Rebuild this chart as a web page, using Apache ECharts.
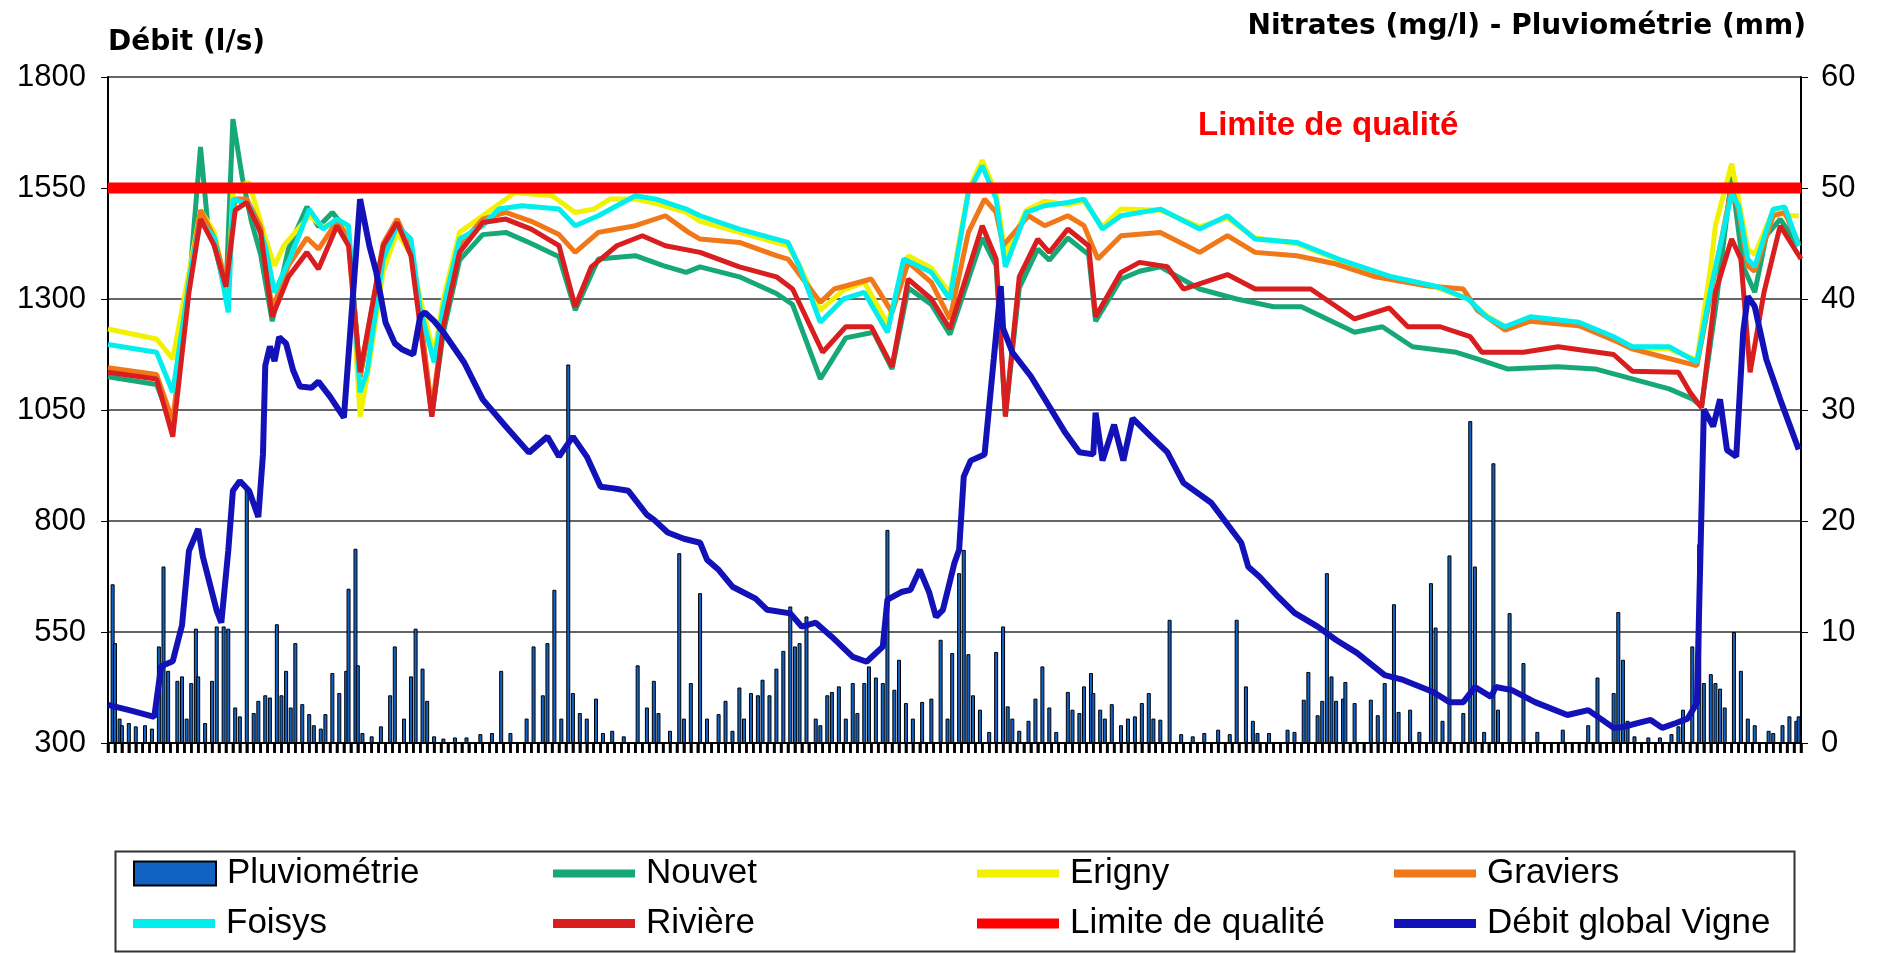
<!DOCTYPE html>
<html><head><meta charset="utf-8">
<script src="https://cdn.jsdelivr.net/npm/echarts@6/dist/echarts.min.js"></script>
<style>html,body{margin:0;padding:0;background:#fff}#c{width:1879px;height:953px}</style>
</head><body><div id="c"></div><script>
// ---- data (x = day index, y = value) ----
const leftTicks = [300, 550, 800, 1050, 1300, 1550, 1800];
const rightTicks = [0, 10, 20, 30, 40, 50, 60];
const limitValue = 50;
const dayCount = 732;          // x range in days
const xTickStep = 3;           // an unlabeled x tick every 3 days
const xTickDays = [];
for (let d = 0; d <= dayCount; d += xTickStep) xTickDays.push([d]);

const pluviometrie = [[2,14.3],[3,9.0],[5,2.2],[6,1.6],[9,1.8],[12,1.5],[16,1.6],[19,1.3],[22,8.7],[24,15.9],[26,6.5],[30,5.6],[32,6.0],[34,2.2],[36,5.4],[38,10.3],[39,6.0],[42,1.8],[45,5.6],[47,10.5],[50,10.5],[52,10.3],[55,3.2],[57,2.4],[60,23.0],[63,2.7],[65,3.8],[68,4.3],[70,4.1],[73,10.7],[75,4.3],[77,6.5],[79,3.2],[81,9.0],[84,3.5],[87,2.6],[89,1.6],[92,1.3],[94,2.6],[97,6.3],[100,4.5],[103,6.5],[104,13.9],[107,17.5],[108,7.0],[110,0.9],[114,0.6],[118,1.5],[122,4.3],[124,8.7],[128,2.2],[131,6.0],[133,10.3],[136,6.7],[138,3.8],[141,0.6],[145,0.4],[150,0.5],[155,0.5],[161,0.8],[166,0.9],[170,6.5],[174,0.9],[181,2.2],[184,8.7],[188,4.3],[190,9.0],[193,13.8],[196,2.2],[199,34.1],[201,4.5],[204,2.7],[207,2.2],[211,4.0],[214,0.9],[218,1.1],[223,0.6],[229,7.0],[233,3.2],[236,5.6],[238,2.7],[243,1.1],[247,17.1],[249,2.2],[252,5.4],[256,13.5],[259,2.2],[264,2.6],[267,3.8],[270,1.1],[273,5.0],[275,2.2],[278,4.5],[281,4.3],[283,5.7],[286,4.3],[289,6.7],[292,8.3],[295,12.3],[297,8.7],[299,9.0],[302,11.4],[306,2.2],[308,1.6],[311,4.3],[313,4.6],[316,5.1],[319,2.2],[322,5.4],[324,2.7],[327,5.4],[329,6.9],[332,5.9],[335,5.4],[337,19.2],[340,4.8],[342,7.5],[345,3.6],[348,2.2],[352,3.7],[356,4.0],[360,9.3],[363,2.2],[365,8.1],[368,15.3],[370,17.4],[372,8.0],[374,4.3],[377,3.0],[381,1.0],[384,8.2],[387,10.5],[389,3.3],[391,2.2],[394,1.1],[398,2.0],[401,4.0],[404,6.9],[407,3.2],[410,1.0],[415,4.6],[417,3.0],[420,2.7],[422,5.1],[425,6.3],[426,4.5],[429,3.0],[431,2.2],[434,3.5],[438,1.6],[441,2.2],[444,2.4],[447,3.6],[450,4.5],[452,2.2],[455,2.1],[459,11.1],[464,0.8],[469,0.6],[474,0.9],[480,1.2],[485,0.8],[488,11.1],[492,5.1],[495,2.0],[497,0.9],[502,0.9],[510,1.2],[513,1.0],[517,3.9],[519,6.4],[523,2.5],[525,3.8],[527,15.3],[529,6.0],[531,3.8],[534,4.0],[535,5.5],[539,3.6],[546,3.9],[549,2.5],[552,5.4],[556,12.5],[558,2.8],[563,3.0],[567,1.0],[572,14.4],[574,10.4],[577,2.0],[580,16.9],[586,2.7],[589,29.0],[591,15.9],[595,1.0],[599,25.2],[601,3.0],[606,11.7],[612,7.2],[618,1.0],[629,1.2],[640,1.6],[644,5.9],[651,4.5],[653,11.8],[655,7.5],[657,2.0],[660,0.6],[666,0.5],[671,0.5],[676,0.8],[679,1.5],[681,3.0],[685,8.7],[688,17.9],[690,5.4],[693,6.2],[695,5.4],[697,4.9],[699,3.2],[703,10.0],[706,6.5],[709,2.2],[712,1.6],[718,1.1],[720,0.9],[724,1.6],[727,2.4],[730,2.0],[731,2.4]];

const nouvet = [[0,33.0],[21,32.3],[28,28.5],[35,41.0],[40,53.7],[43,47.0],[47,44.0],[51,40.5],[54,56.2],[58,51.0],[62,47.0],[66,44.0],[71,38.0],[78,44.5],[86,48.3],[91,46.5],[97,47.8],[104,46.0],[109,33.0],[119,44.0],[125,47.0],[131,44.5],[135,38.5],[140,29.5],[145,37.0],[152,43.5],[162,45.8],[172,46.0],[183,45.0],[195,43.8],[202,39.0],[212,43.6],[228,43.9],[240,43.0],[250,42.4],[256,42.9],[273,42.0],[289,40.5],[296,39.5],[308,32.8],[319,36.5],[331,37.0],[339,33.7],[346,41.0],[356,39.5],[364,36.8],[378,45.5],[384,43.0],[388,29.5],[394,41.0],[402,44.5],[407,43.5],[415,45.5],[424,44.0],[427,38.0],[438,41.8],[446,42.5],[455,42.9],[472,40.9],[488,40.0],[504,39.3],[516,39.3],[539,37.0],[551,37.5],[564,35.7],[583,35.2],[592,34.6],[605,33.7],[627,33.9],[643,33.7],[659,32.8],[675,31.9],[685,31.0],[689,30.3],[695,39.1],[702,51.0],[707,42.9],[712,40.6],[717,45.7],[723,47.2],[731,44.8]];

const erigny = [[0,37.3],[21,36.4],[28,34.6],[36,43.5],[40,48.0],[46,46.0],[52,40.0],[54,50.0],[61,50.5],[68,45.5],[72,43.0],[76,44.8],[87,47.5],[93,46.5],[99,47.0],[104,46.0],[109,29.4],[112,33.0],[119,42.5],[125,46.0],[131,44.0],[135,40.0],[141,35.0],[145,40.0],[152,46.0],[162,47.5],[176,49.6],[192,49.3],[202,47.8],[210,48.1],[217,49.0],[228,49.0],[237,48.6],[250,47.8],[256,47.0],[273,46.0],[294,44.8],[299,43.0],[308,39.0],[318,40.8],[327,41.5],[337,37.8],[346,43.9],[356,42.8],[364,40.5],[372,49.8],[378,52.5],[384,49.5],[388,44.0],[394,46.6],[397,48.0],[405,48.8],[415,48.5],[422,48.8],[430,46.5],[438,48.1],[455,48.0],[472,46.5],[484,47.3],[496,45.5],[514,45.0],[532,43.5],[555,41.8],[575,41.0],[588,40.0],[596,38.5],[604,37.5],[615,38.2],[636,37.8],[651,36.5],[659,35.6],[675,35.5],[687,34.5],[693,43.0],[695,46.6],[702,52.2],[705,49.0],[709,44.5],[712,44.0],[720,48.0],[726,47.5],[731,47.5]];

const graviers = [[0,33.8],[21,33.2],[28,29.0],[35,41.5],[40,48.0],[46,45.5],[51,41.5],[55,49.0],[60,49.0],[66,46.5],[71,39.0],[78,43.0],[86,45.5],[91,44.5],[99,47.0],[104,45.5],[109,33.0],[119,45.0],[125,47.2],[131,44.5],[135,38.5],[140,30.0],[145,38.0],[152,44.8],[162,47.2],[172,47.8],[183,47.0],[195,45.8],[202,44.2],[212,46.0],[228,46.6],[241,47.5],[251,46.0],[256,45.4],[273,45.1],[289,43.9],[294,43.6],[308,39.7],[314,40.9],[330,41.8],[339,38.8],[346,43.3],[356,41.5],[364,38.2],[372,46.0],[379,49.0],[384,47.8],[387,44.8],[398,47.5],[405,46.6],[415,47.5],[422,46.6],[428,43.6],[438,45.7],[455,46.0],[472,44.2],[484,45.7],[496,44.2],[514,43.9],[530,43.2],[548,42.0],[570,41.2],[586,40.9],[592,39.0],[604,37.2],[615,38.0],[636,37.6],[651,36.3],[659,35.5],[672,34.8],[687,34.0],[693,40.5],[702,50.0],[705,48.0],[709,43.0],[712,42.5],[720,47.5],[725,47.8],[731,45.0]];

const foisys = [[0,35.9],[21,35.2],[28,31.6],[36,42.9],[40,47.0],[46,45.5],[52,38.8],[54,49.0],[61,48.5],[68,44.8],[72,40.6],[79,43.8],[87,48.1],[93,46.3],[99,47.2],[104,46.6],[109,31.6],[112,33.4],[119,43.6],[125,46.6],[131,45.4],[135,39.1],[141,34.3],[145,39.3],[152,45.4],[162,46.6],[169,48.1],[179,48.4],[195,48.1],[202,46.6],[212,47.5],[228,49.3],[237,49.0],[250,48.1],[256,47.5],[273,46.3],[294,45.1],[299,42.9],[308,37.9],[318,40.0],[327,40.6],[337,37.0],[344,43.6],[356,42.4],[364,40.0],[372,49.6],[378,52.0],[384,49.0],[388,42.9],[397,47.8],[405,48.4],[415,48.7],[422,49.0],[430,46.3],[438,47.5],[455,48.1],[472,46.3],[484,47.5],[496,45.4],[514,45.1],[532,43.6],[555,42.0],[575,41.1],[588,40.0],[596,38.4],[604,37.5],[615,38.4],[636,37.9],[651,36.6],[659,35.7],[675,35.7],[687,34.3],[693,40.9],[702,49.5],[705,48.4],[709,43.6],[712,42.9],[720,48.1],[725,48.3],[731,44.8]];

const riviere = [[0,33.4],[21,32.8],[28,27.6],[35,40.6],[40,47.2],[46,44.8],[51,41.1],[55,48.0],[60,48.7],[66,46.0],[71,38.4],[78,42.0],[86,44.2],[91,42.7],[99,46.6],[104,44.8],[109,33.4],[119,44.8],[125,46.9],[131,43.9],[135,37.5],[140,29.4],[145,37.5],[152,44.2],[162,46.9],[172,47.2],[183,46.3],[195,44.8],[202,39.3],[209,42.9],[220,44.8],[231,45.7],[241,44.8],[256,44.2],[273,42.9],[289,42.0],[296,40.9],[309,35.2],[319,37.5],[330,37.5],[339,33.9],[346,41.8],[356,40.0],[364,37.3],[378,46.6],[384,43.6],[388,29.4],[394,42.0],[402,45.4],[407,44.2],[415,46.3],[424,44.8],[427,38.4],[438,42.4],[446,43.3],[458,42.9],[465,40.9],[484,42.2],[496,40.9],[514,40.9],[520,40.9],[539,38.2],[554,39.2],[562,37.5],[576,37.5],[589,36.6],[594,35.2],[612,35.2],[627,35.7],[651,35.0],[659,33.5],[679,33.4],[684,31.6],[689,30.2],[695,40.6],[702,45.4],[706,43.6],[710,33.4],[716,40.6],[723,46.6],[732,43.6]];

const limite = [[0, limitValue], [dayCount, limitValue]];

const debit = [[0,386],[10,373],[20,359],[23,473],[28,484],[32,565],[35,733],[39,782],[41,720],[47,598],[49,571],[52,733],[54,868],[57,890],[61,868],[65,809],[67,950],[68,1150],[70,1193],[72,1160],[74,1214],[77,1200],[80,1140],[83,1103],[88,1100],[91,1114],[96,1080],[102,1033],[109,1525],[113,1420],[116,1360],[120,1247],[124,1200],[127,1187],[132,1175],[135,1261],[137,1270],[141,1250],[145,1225],[154,1157],[162,1074],[172,1013],[182,954],[190,990],[195,945],[201,990],[207,945],[213,877],[218,874],[225,868],[233,814],[236,803],[242,774],[249,760],[256,751],[259,713],[264,690],[270,652],[280,625],[285,600],[295,592],[300,562],[306,571],[313,539],[322,494],[328,483],[335,517],[337,623],[343,640],[347,645],[351,690],[355,640],[358,584],[361,600],[366,706],[368,735],[370,900],[373,936],[379,950],[383,1166],[386,1329],[387,1234],[391,1180],[399,1126],[407,1058],[414,998],[420,955],[426,950],[427,1044],[430,936],[435,1017],[439,936],[443,1031],[451,990],[458,955],[465,886],[477,841],[490,751],[493,697],[498,674],[506,629],[513,593],[523,562],[531,532],[540,503],[552,453],[560,442],[573,415],[580,392],[586,392],[591,426],[598,404],[600,426],[607,419],[617,392],[631,363],[640,374],[645,356],[651,334],[655,336],[663,347],[667,352],[672,334],[678,345],[683,355],[687,390],[690,1051],[694,1013],[697,1074],[700,960],[704,945],[707,1225],[709,1306],[712,1283],[717,1164],[723,1074],[731,961]];

// ---- chart ----
const FONT = '"Liberation Sans", Arial, sans-serif';
const chart = echarts.init(document.getElementById('c'), null, {renderer: 'canvas'});

function lineSeries(name, data, color, width, yIdx) {
  return {
    name, type: 'line', data, yAxisIndex: yIdx, xAxisIndex: 0, showSymbol: false, symbol: 'none',
    lineStyle: {color, width}, itemStyle: {color}, animation: false, z: 3
  };
}
const col = [133, 553, 977, 1394];
const row = [877, 927];
function legendAt(name, c, r, h) {
  return {
    left: col[c], top: row[r] - 21, data: [{name, icon: 'rect'}], selectedMode: false,
    itemWidth: 82, itemHeight: h, padding: 0,
    textStyle: {fontFamily: FONT, fontSize: 35, color: '#000', padding: [0, 0, 0, 6]}
  };
}

const option = {
  animation: false,
  backgroundColor: '#fff',
  grid: {left: 108, right: 78, top: 77, bottom: 210},
  title: [
    {text: 'Débit (l/s)', left: 103, top: 24,
     textStyle: {fontFamily: '"DejaVu Sans", sans-serif', fontSize: 28, fontWeight: 'bold', color: '#000'}},
    {text: 'Nitrates (mg/l) - Pluviométrie (mm)', right: 68, top: 8,
     textStyle: {fontFamily: '"DejaVu Sans", sans-serif', fontSize: 28, fontWeight: 'bold', color: '#000'}}
  ],
  legend: [
    legendAt('Pluviométrie', 0, 0, 24),
    legendAt('Nouvet', 1, 0, 8),
    legendAt('Erigny', 2, 0, 8),
    legendAt('Graviers', 3, 0, 8),
    legendAt('Foisys', 0, 1, 9),
    legendAt('Rivière', 1, 1, 9),
    legendAt('Limite de qualité', 2, 1, 10),
    legendAt('Débit global Vigne', 3, 1, 9)
  ],
  xAxis: {type: 'value', min: 0, max: dayCount, interval: xTickStep, position: 'bottom',
     axisLine: {show: true, onZero: false, lineStyle: {color: '#000', width: 2}},
     axisTick: {show: true, length: 10, lineStyle: {color: '#000', width: 2.5}},
     axisLabel: {show: false}, splitLine: {show: false}},
  yAxis: [
    {type: 'value', min: leftTicks[0], max: leftTicks[leftTicks.length - 1], interval: 250, position: 'left',
     axisLine: {show: true, onZero: false, lineStyle: {color: '#000', width: 2}},
     axisTick: {show: true, length: 7, lineStyle: {color: '#000'}},
     axisLabel: {fontFamily: FONT, fontSize: 31, color: '#000', margin: 22,
                 formatter: function (v) { return String(v); }},
     splitLine: {show: true, lineStyle: {color: '#333', width: 1.5}}},
    {type: 'value', min: rightTicks[0], max: rightTicks[rightTicks.length - 1], interval: 10, position: 'right',
     axisLine: {show: true, onZero: false, lineStyle: {color: '#000', width: 2}},
     axisTick: {show: true, length: 7, lineStyle: {color: '#000'}},
     axisLabel: {fontFamily: FONT, fontSize: 31, color: '#000', margin: 20,
                 formatter: function (v) { return String(v); }},
     splitLine: {show: false}}
  ],
  series: [
    {name: 'Pluviométrie', type: 'bar', data: pluviometrie, xAxisIndex: 0, yAxisIndex: 1, barWidth: 4,
     itemStyle: {color: '#1262c4', borderColor: '#000', borderWidth: 1}, z: 2},
    lineSeries('Nouvet', nouvet, '#17a878', 5, 1),
    lineSeries('Erigny', erigny, '#f2f200', 5, 1),
    lineSeries('Graviers', graviers, '#f07818', 5, 1),
    lineSeries('Foisys', foisys, '#00eeee', 5, 1),
    lineSeries('Rivière', riviere, '#d81e1e', 5, 1),
    lineSeries('Limite de qualité', limite, '#ff0000', 11, 1),
    lineSeries('Débit global Vigne', debit, '#1212b8', 6, 0),
    // x-axis tick marks, placed through the x scale (axis furniture, not data)
    {type: 'custom', xAxisIndex: 0, yAxisIndex: 0, data: xTickDays, silent: true, clip: false, z: 1,
     encode: {x: 0},
     renderItem: function (params, api) {
       const p = api.coord([api.value(0), leftTicks[0]]);
       return {type: 'line', shape: {x1: p[0], y1: p[1], x2: p[0], y2: p[1] + 10},
               style: {stroke: '#000', lineWidth: 2.5}};
     }}
  ],
  graphic: [
    {type: 'rect', left: 113, top: 849, shape: {width: 1679, height: 100},
     style: {fill: 'none', stroke: '#333', lineWidth: 2}, z: 0},
    {type: 'text', left: 1198, top: 109,
     style: {text: 'Limite de qualité', font: 'bold 33px "Liberation Sans", Arial, sans-serif', fill: '#ff0000'}, z: 10}
  ]
};
chart.setOption(option);
</script></body></html>
